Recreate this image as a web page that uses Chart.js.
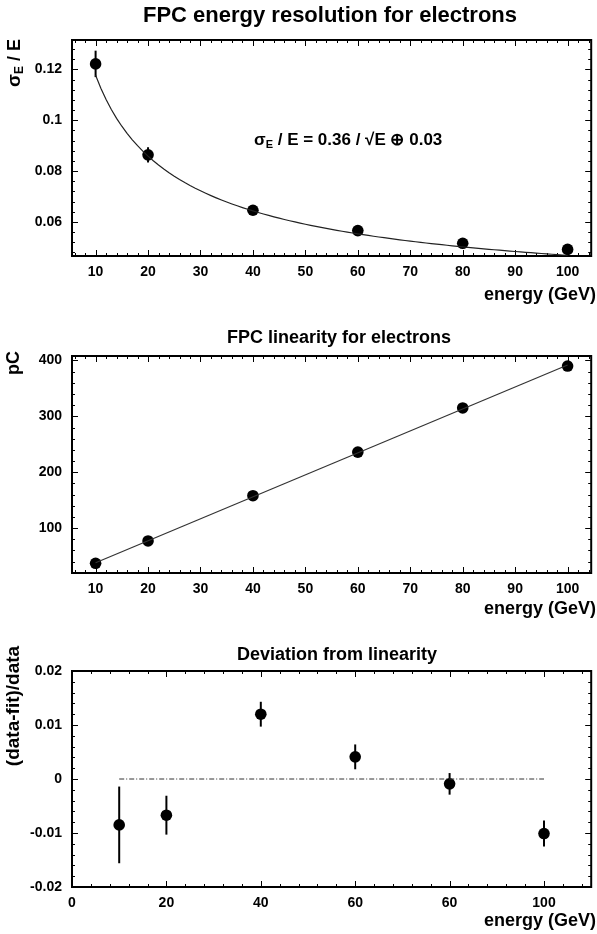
<!DOCTYPE html>
<html>
<head>
<meta charset="utf-8">
<script src="https://cdn.jsdelivr.net/npm/chart.js@4.4.1/dist/chart.umd.min.js"></script>
<style>
  html, body { margin: 0; padding: 0; background: #fff; }
  body { width: 597px; height: 934px; position: relative; overflow: hidden; }
  canvas { position: absolute; left: 0; }
</style>
</head>
<body>
<canvas id="resCanvas" width="597" height="310" style="top:0px"></canvas>
<canvas id="linCanvas" width="597" height="310" style="top:320px"></canvas>
<canvas id="devCanvas" width="597" height="304" style="top:630px"></canvas>
<script>
// ---- measurements -------------------------------------------------------
const energy = [10, 20, 40, 60, 80, 100];              // beam energy, GeV

const resolution    = [0.1222, 0.0864, 0.0646, 0.0566, 0.0516, 0.0492];
const resolutionErr = [0.0052, 0.0030, 0.0008, 0.0008, 0.0007, 0.0007];
const fitStochastic = 0.36;   // GeV^1/2
const fitConstant   = 0.03;

const charge        = [37, 77, 158, 236, 315, 390];    // pC
const chargeFitE    = [10, 100];
const chargeFitPC   = [38, 392];

const deviation     = [-0.0085, -0.0067, 0.0120, 0.0041, -0.0009, -0.0101];
const deviationErr  = [0.0071, 0.0036, 0.0023, 0.0023, 0.0020, 0.0024];
const zeroLineE     = [10, 100];
const zeroLineV     = [0, 0];

// ---- axis ticks ------------------------------------------------------------
const energyTicks      = [10, 20, 30, 40, 50, 60, 70, 80, 90, 100];
const energyTickLabels = ['10', '20', '30', '40', '50', '60', '70', '80', '90', '100'];
const resTicks         = [0.06, 0.08, 0.1, 0.12];
const resTickLabels    = ['0.06', '0.08', '0.1', '0.12'];
const chargeTicks      = [100, 200, 300, 400];
const chargeTickLabels = ['100', '200', '300', '400'];
const devETicks        = [0, 20, 40, 60, 80, 100];
const devETickLabels   = ['0', '20', '40', '60', '60', '100'];
const devTicks         = [-0.02, -0.01, 0, 0.01, 0.02];
const devTickLabels    = ['-0.02', '-0.01', '0', '0.01', '0.02'];

// ---- helpers ---------------------------------------------------------------
const FONT = '"Liberation Sans", Arial, Helvetica, sans-serif';
const pts = (xs, ys) => xs.map((x, i) => ({ x, y: ys[i] }));

// resolution fit sigma/E = a/sqrt(E) (+) b, sampled along the energy axis
const fitEnergies = [];
for (let e = 10; e <= 100; e += 1) fitEnergies.push(e);
const fitResolution = fitEnergies.map(e =>
  Math.sqrt(Math.pow(fitStochastic / Math.sqrt(e), 2) + fitConstant * fitConstant));

function linAxis(min, max, ticks, labels, pad, fit) {
  return {
    type: 'linear', min, max,
    afterBuildTicks: s => { s.ticks = ticks.map(v => ({ value: v })); },
    afterFit: fit,
    grid: { display: false, drawTicks: false },
    border: { display: false },
    ticks: {
      autoSkip: false, maxRotation: 0, padding: pad, color: '#000',
      font: { family: FONT, size: 14, weight: 'bold' },
      callback: (v, i) => labels[i]
    }
  };
}

// draw a run of text pieces; a piece may be a subscript
function richWidth(ctx, parts) {
  let w = 0;
  parts.forEach(p => { ctx.font = `bold ${p.size}px ${FONT}`; w += ctx.measureText(p.t).width; });
  return w;
}
function drawRich(ctx, parts, x, y) {
  let cx = x;
  parts.forEach(p => {
    ctx.font = `bold ${p.size}px ${FONT}`;
    ctx.fillText(p.t, cx, y + (p.dy || 0));
    cx += ctx.measureText(p.t).width;
  });
}

// frame, inward ticks, error bars and texts for one panel
function panelDecor(cfg) {
  return {
    id: 'panelDecor',
    beforeDatasetsDraw(chart) {
      const { ctx, chartArea: a, scales: { x, y } } = chart;
      ctx.save();
      ctx.strokeStyle = '#000';
      ctx.lineWidth = 1;
      const tick = (px, py, dx, dy) => {
        ctx.beginPath(); ctx.moveTo(px, py); ctx.lineTo(px + dx, py + dy); ctx.stroke();
      };
      const near = (v, list) => list.some(t => Math.abs(t - v) < 1e-9);
      // major and minor ticks, pointing into the plot on all four sides
      for (let v = cfg.xMinorStart; v <= x.max + 1e-9; v += cfg.xMinor) {
        const vv = Math.round(v * 1e6) / 1e6;
        if (vv < x.min) continue;
        const px = Math.round(x.getPixelForValue(vv)) + 0.5;
        const len = near(vv, cfg.xMajor) ? 6 : 3;
        tick(px, a.bottom, 0, -len); tick(px, a.top, 0, len);
      }
      for (let v = cfg.yMinorStart; v <= y.max + 1e-9; v += cfg.yMinor) {
        const vv = Math.round(v * 1e6) / 1e6;
        if (vv < y.min) continue;
        const py = Math.round(y.getPixelForValue(vv)) + 0.5;
        const len = near(vv, cfg.yMajor) ? 6 : 3;
        tick(a.left, py, len, 0); tick(a.right, py, -len, 0);
      }
      // frame
      ctx.lineWidth = 2;
      ctx.strokeRect(a.left, a.top, a.right - a.left, a.bottom - a.top);
      // error bars
      if (cfg.err) {
        ctx.lineWidth = 2;
        cfg.err.vals.forEach((v, i) => {
          const px = x.getPixelForValue(cfg.err.xs[i]);
          const lo = y.getPixelForValue(v - cfg.err.errs[i]);
          const hi = y.getPixelForValue(v + cfg.err.errs[i]);
          tick(px, lo, 0, hi - lo);
        });
      }
      ctx.restore();
    },
    afterDraw(chart) {
      const { ctx, width } = chart;
      ctx.save();
      ctx.fillStyle = '#000';
      ctx.textBaseline = 'middle';
      // panel title
      ctx.font = `bold ${cfg.titleSize}px ${FONT}`;
      ctx.textAlign = 'center';
      ctx.fillText(cfg.title, cfg.titleX, cfg.titleY);
      // energy axis title
      ctx.font = `bold 18px ${FONT}`;
      ctx.textAlign = 'right';
      ctx.fillText('energy (GeV)', width - 1, cfg.xTitleY);
      // vertical axis title
      ctx.textAlign = 'left';
      ctx.translate(cfg.yTitleX, cfg.yTitleY);
      ctx.rotate(-Math.PI / 2);
      const w = richWidth(ctx, cfg.yTitle);
      drawRich(ctx, cfg.yTitle, -w / 2, 0);
      ctx.restore();
      if (cfg.note) {
        ctx.save();
        ctx.fillStyle = '#000';
        ctx.textBaseline = 'middle';
        ctx.textAlign = 'left';
        drawRich(ctx, cfg.note, cfg.noteX, cfg.noteY);
        ctx.restore();
      }
    }
  };
}

function baseOptions(top, xAxis, yAxis) {
  return {
    responsive: false,
    animation: false,
    events: [],
    layout: { padding: { top, right: 2, bottom: 0, left: 0 } },
    plugins: { legend: { display: false }, tooltip: { enabled: false }, title: { display: false } },
    scales: { x: xAxis, y: yAxis }
  };
}

const pointStyle = {
  showLine: false, pointRadius: 5.8, pointBackgroundColor: '#000',
  pointBorderColor: '#000', pointBorderWidth: 0
};

// ---- energy resolution -----------------------------------------------------
new Chart(document.getElementById('resCanvas'), {
  type: 'scatter',
  data: {
    datasets: [
      { data: pts(fitEnergies, fitResolution), showLine: true, borderColor: '#222',
        borderWidth: 1.2, pointRadius: 0, tension: 0 },
      { data: pts(energy, resolution), ...pointStyle }
    ]
  },
  options: baseOptions(40,
    linAxis(5.5, 104.5, energyTicks, energyTickLabels, 8, s => { s.height = 54; }),
    linAxis(0.0466, 0.1316, resTicks, resTickLabels, 10, s => { s.width = 72; })),
  plugins: [panelDecor({
    title: 'FPC energy resolution for electrons', titleSize: 22, titleX: 330, titleY: 16,
    xTitleY: 295,
    yTitle: [{ t: 'σ', size: 19 }, { t: 'E', size: 12, dy: 5 }, { t: ' / E', size: 18 }],
    yTitleX: 15, yTitleY: 63,
    note: [{ t: 'σ', size: 17 }, { t: 'E', size: 11, dy: 5 },
           { t: ' / E = 0.36 / √E ⊕ 0.03', size: 17 }],
    noteX: 254, noteY: 140,
    xMinor: 2, xMinorStart: 6, xMajor: energyTicks,
    yMinor: 0.004, yMinorStart: 0.048, yMajor: resTicks,
    err: { xs: energy, vals: resolution, errs: resolutionErr }
  })]
});

// ---- linearity -------------------------------------------------------------
new Chart(document.getElementById('linCanvas'), {
  type: 'scatter',
  data: {
    datasets: [
      { data: pts(chargeFitE, chargeFitPC), showLine: true, borderColor: '#333',
        borderWidth: 1.2, pointRadius: 0 },
      { data: pts(energy, charge), ...pointStyle }
    ]
  },
  options: baseOptions(36,
    linAxis(5.5, 104.5, energyTicks, energyTickLabels, 8, s => { s.height = 57; }),
    linAxis(19.6, 408, chargeTicks, chargeTickLabels, 10, s => { s.width = 72; })),
  plugins: [panelDecor({
    title: 'FPC linearity for electrons', titleSize: 18, titleX: 339, titleY: 18,
    xTitleY: 289,
    yTitle: [{ t: 'pC', size: 18 }],
    yTitleX: 14, yTitleY: 43,
    xMinor: 2, xMinorStart: 6, xMajor: energyTicks,
    yMinor: 20, yMinorStart: 20, yMajor: chargeTicks
  })]
});

// ---- deviation from linearity ----------------------------------------------
new Chart(document.getElementById('devCanvas'), {
  type: 'scatter',
  data: {
    datasets: [
      { data: pts(zeroLineE, zeroLineV), showLine: true, borderColor: '#333',
        borderWidth: 1, borderDash: [5, 2, 1, 2], pointRadius: 0 },
      { data: pts(energy, deviation), ...pointStyle }
    ]
  },
  options: baseOptions(41,
    linAxis(0, 110, devETicks, devETickLabels, 8, s => { s.height = 47; }),
    linAxis(-0.02, 0.02, devTicks, devTickLabels, 10, s => { s.width = 72; })),
  plugins: [panelDecor({
    title: 'Deviation from linearity', titleSize: 18, titleX: 337, titleY: 25,
    xTitleY: 291,
    yTitle: [{ t: '(data-fit)/data', size: 19 }],
    yTitleX: 14, yTitleY: 76,
    xMinor: 4, xMinorStart: 0, xMajor: devETicks,
    yMinor: 0.002, yMinorStart: -0.02, yMajor: devTicks,
    err: { xs: energy, vals: deviation, errs: deviationErr }
  })]
});
</script>
</body>
</html>
